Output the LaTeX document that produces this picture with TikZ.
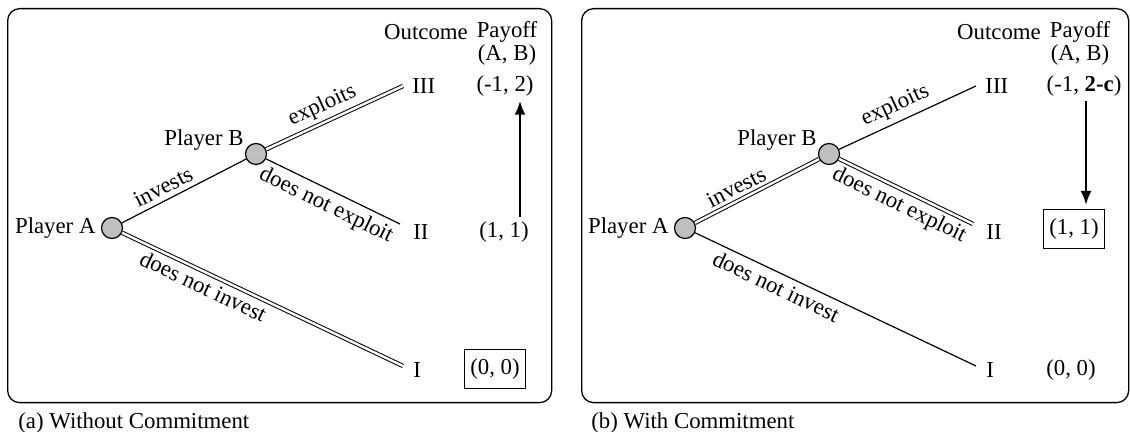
\documentclass[tikz,border=0pt]{standalone}
\usepackage{fontspec}
\setmainfont{Liberation Serif}
\usetikzlibrary{arrows.meta,calc}
\begin{document}
\begin{tikzpicture}[x=0.5pt,y=-0.5pt,
  txt/.style={font=\fontsize{11.4pt}{13pt}\selectfont, inner sep=0pt},
  elab/.style={txt, sloped, inner sep=2.5pt},
  frame/.style={draw, line width=0.65pt, rounded corners=6pt},
  player/.style={circle, draw, line width=0.6pt, fill=black!25, minimum size=10.5pt, inner sep=0pt},
  single/.style={line width=0.6pt},
  dbl/.style={line width=0.5pt, double, double distance=1.2pt},
  boxed/.style={draw, line width=0.55pt, minimum width=30.5pt, minimum height=19.5pt, inner sep=0pt},
  arr/.style={line width=1.2pt, -{Latex[length=7pt,width=5.5pt]}}
]
\useasboundingbox (0,0) rectangle (1130,432);

% ---------------- panel (a) ----------------
\node[frame, minimum width=272pt, minimum height=197pt, anchor=north west] (frA) at (7,8) {};
\node[txt, anchor=base west] (capA) at (18,429) {(a) Without Commitment};

\node[player] (A1) at (112,228) {};
\node[player] (B1) at (256,154) {};
\node[txt, anchor=east, inner sep=2.5pt] (A1l) at (A1.west) {Player A};
\node[txt] (B1l) at (204,140) {Player B};

\coordinate (t3a) at (403,86);
\coordinate (t2a) at (400,224);
\coordinate (t1a) at (403,366);

\draw[single] (A1) -- node[elab, above, pos=.38] {invests} (B1);
\draw[dbl] (B1) -- node[elab, above, pos=.46] {exploits} (t3a);
\draw[single] (B1) -- node[elab, below, pos=.5] {does not exploit} (t2a);
\draw[dbl] (A1) -- node[elab, below, pos=.31] {does not invest} (t1a);

\node[txt] (outA) at (426,32) {Outcome};
\node[txt] (payA) at (507,32) {Payoff};
\node[txt] (abA) at (507,55) {(A, B)};
\node[txt, anchor=west] (o3a) at (412,86) {III};
\node[txt, anchor=west] (o2a) at (413,232) {II};
\node[txt, anchor=west] (o1a) at (413,370) {I};
\node[txt] (p3a) at (505,86) {(-1, 2)};
\node[txt] (p2a) at (504,232) {(1, 1)};
\node[txt, boxed] (p1a) at (495,369) {(0, 0)};

\coordinate (axa) at (520,0);
\draw[arr] ($(axa |- p2a.north)+(0,-4)$) -- ($(axa |- p3a.south)+(0,4)$);

% ---------------- panel (b) ----------------
\node[frame, minimum width=273.5pt, minimum height=197pt, anchor=north west] (frB) at (581,8) {};
\node[txt, anchor=base west] (capB) at (591,429) {(b) With Commitment};

\node[player] (A2) at (685,228) {};
\node[player] (B2) at (829,154) {};
\node[txt, anchor=east, inner sep=2.5pt] (A2l) at (A2.west) {Player A};
\node[txt] (B2l) at (777,140) {Player B};

\coordinate (t3b) at (976,86);
\coordinate (t2b) at (973,224);
\coordinate (t1b) at (976,366);

\draw[dbl] (A2) -- node[elab, above, pos=.38] {invests} (B2);
\draw[single] (B2) -- node[elab, above, pos=.46] {exploits} (t3b);
\draw[dbl] (B2) -- node[elab, below, pos=.5] {does not exploit} (t2b);
\draw[single] (A2) -- node[elab, below, pos=.31] {does not invest} (t1b);

\node[txt] (outB) at (999,32) {Outcome};
\node[txt] (payB) at (1080,32) {Payoff};
\node[txt] (abB) at (1080,55) {(A, B)};
\node[txt, anchor=west] (o3b) at (985,86) {III};
\node[txt, anchor=west] (o2b) at (986,232) {II};
\node[txt, anchor=west] (o1b) at (986,370) {I};
\node[txt] (p3b) at (1084,86) {(-1, \textbf{2-c})};
\node[txt, boxed] (p2b) at (1074,229) {(1, 1)};
\node[txt] (p1b) at (1071,370) {(0, 0)};

\coordinate (axb) at (1086,0);
\draw[arr] ($(axb |- p3b.south)+(0,4)$) -- ($(axb |- p2b.north)+(0,-4)$);
\end{tikzpicture}
\end{document}
